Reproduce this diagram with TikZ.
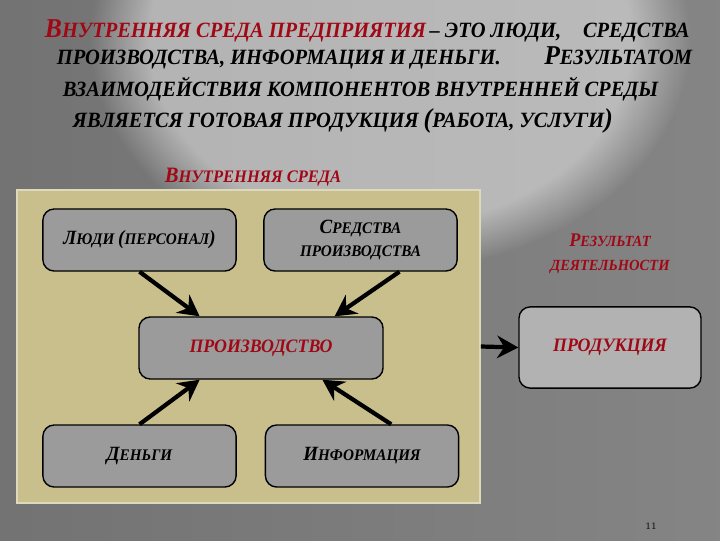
\documentclass[tikz,border=0pt]{standalone}
\usepackage{fontspec}
\usepackage{graphicx}
\usetikzlibrary{calc,arrows.meta,fadings}
\newfontfamily\slidefont{Liberation Serif}[FakeStretch=0.94]
\definecolor{sred}{RGB}{160,8,22}
\definecolor{khaki}{RGB}{200,191,140}
\definecolor{boxgray}{RGB}{155,155,155}
\newcommand\Bg[1]{\scalebox{1.25}{#1}}

\begin{document}
\begin{tikzpicture}[x=0.025cm, y=-0.025cm,
  every node/.style={font=\slidefont\bfseries\itshape},
  title/.style={anchor=base west, font=\slidefont\bfseries\itshape\fontsize{15.5}{18}\selectfont},
  panel/.style={draw=khaki!60!white, line width=1pt, fill=khaki, inner sep=0pt,
    minimum width=11.58cm, minimum height=7.83cm},
  part/.style={draw, line width=1pt, fill=boxgray, rounded corners=8pt, inner sep=0pt,
    minimum width=4.83cm, minimum height=1.55cm, align=center,
    font=\slidefont\bfseries\itshape\fontsize{11.5}{16}\selectfont},
  arr/.style={line width=3pt, -{Stealth[length=15pt, width=16pt, inset=5pt]}}]
\useasboundingbox (0,0) rectangle (720,540);
\shade[left color=black!55, middle color=black!25, right color=black!48] (0,0) rectangle (720,540);
\fill[white, opacity=0.45, path fading=circle with fuzzy edge 20 percent] (390,40) ellipse (300 and 230);

% heading
\node[title] (T1) at (40,37) {{\color{sred}\Bg{В}НУТРЕННЯЯ СРЕДА ПРЕДПРИЯТИЯ}\,– ЭТО ЛЮДИ,\quad СРЕДСТВА};
\node[title] (T2) at (52,64) {ПРОИЗВОДСТВА, ИНФОРМАЦИЯ И ДЕНЬГИ.\qquad\Bg{Р}ЕЗУЛЬТАТОМ};
\node[title] (T3) at (58,96) {ВЗАИМОДЕЙСТВИЯ КОМПОНЕНТОВ ВНУТРЕННЕЙ СРЕДЫ};
\node[title] (T4) at (68,127) {ЯВЛЯЕТСЯ ГОТОВАЯ ПРОДУКЦИЯ \Bg{(}РАБОТА, УСЛУГИ\Bg{)}};

\node[font=\slidefont\bfseries\itshape\fontsize{12.5}{14}\selectfont, text=sred, anchor=base]
  (envlabel) at (253,182) {\Bg{В}НУТРЕННЯЯ СРЕДА};

% inner environment
\node[panel] (env) at (248.5,346.5) {};
\node[part] (people) at (139.5,240) {\Bg{Л}ЮДИ \Bg{(}ПЕРСОНАЛ\Bg{)}};
\node[part] (means) at (360.5,240) {\Bg{С}РЕДСТВА\\ПРОИЗВОДСТВА};
\node[part, minimum width=6.1cm, text=sred, font=\slidefont\bfseries\itshape\fontsize{13.5}{16}\selectfont]
  (prod) at (261,348) {ПРОИЗВОДСТВО};
\node[part] (money) at (139.5,456) {\Bg{Д}ЕНЬГИ};
\node[part] (info) at (362,456) {\Bg{И}НФОРМАЦИЯ};

% result
\node[font=\slidefont\bfseries\itshape\fontsize{11}{14}\selectfont, text=sred, align=center]
  (reslabel) at (610,254) {\Bg{Р}ЕЗУЛЬТАТ\\[3pt]ДЕЯТЕЛЬНОСТИ};
\node[part, fill=black!30, minimum width=4.55cm, minimum height=2.03cm, text=sred,
  font=\slidefont\bfseries\itshape\fontsize{13.5}{16}\selectfont]
  (product) at (610,347.5) {ПРОДУКЦИЯ};

\draw[arr] (people.south) -- ($(prod.north)!0.5!(prod.north west)$);
\draw[arr] ($(means.south)!0.4!(means.south east)$) -- ($(prod.north)!0.6!(prod.north east)$);
\draw[arr] (money.north) -- ($(prod.south)!0.5!(prod.south west)$);
\draw[arr] ($(info.north)!0.3!(info.north east)$) -- ($(prod.south)!0.5!(prod.south east)$);
\draw[arr] (env.east) -- (product.west);

\node[font=\fontsize{7}{8}\selectfont] (page) at (651,526) {11};
\end{tikzpicture}
\end{document}
